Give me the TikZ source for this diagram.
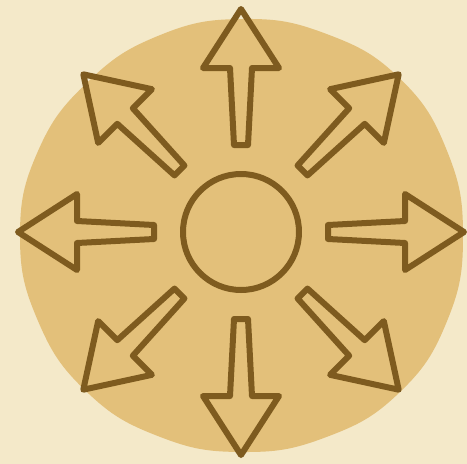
\documentclass[tikz,border=0pt]{standalone}
\begin{document}
\begin{tikzpicture}[x=1pt,y=-1pt,
  bgcol/.style={fill={rgb,255:red,244;green,233;blue,201}},
  blob/.style={fill={rgb,255:red,227;green,192;blue,122}},
  ink/.style={draw={rgb,255:red,126;green,91;blue,31},line width=6pt,line join=round,line cap=round}]
\path[bgcol] (0,0) rectangle (467,464);
\useasboundingbox (0,0) rectangle (467,464);
\coordinate (bc) at (242,236);
\fill[blob,shift={(bc)}] plot[smooth cycle,tension=0.75] coordinates {
 (0:221) (22.5:222) (45:222) (67.5:218) (90:216) (112.5:217) (135:220) (157.5:221)
 (180:222) (202.5:221) (225:218) (247.5:217) (270:217) (292.5:219) (315:223) (337.5:222)};
\coordinate (c) at (241,232);
\node[ink,circle,minimum size=116pt,inner sep=0pt] (hub) at (c) {};
\foreach \a in {0,45,...,315}{
  \begin{scope}[shift={(c)},rotate=\a]
    \draw[ink] (87,-7) -- (164,-11) -- (164,-38) -- (223,0) -- (164,38) -- (164,11) -- (87,7) -- cycle;
  \end{scope}
}
\end{tikzpicture}
\end{document}
